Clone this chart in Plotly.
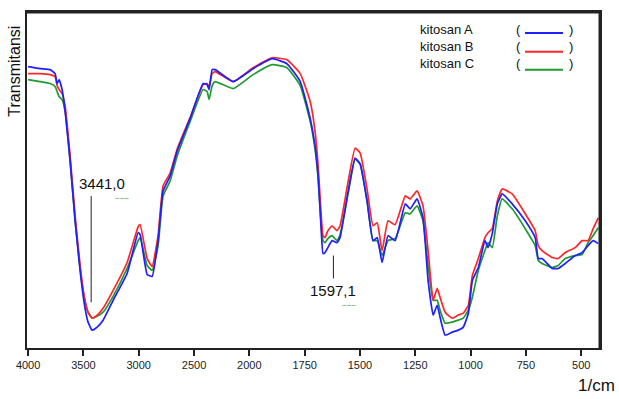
import plotly.graph_objects as go

# Wavenumber (1/cm) sample points
wavenumber = [4000, 3892, 3801, 3756, 3738, 3720, 3693, 3665, 3620, 3575, 3530, 3494, 3458, 3421,
              3376, 3322, 3231, 3105, 3005, 2987, 2924, 2879, 2825, 2780, 2716, 2653, 2535, 2418,
              2382, 2364, 2336, 2309, 2146, 1983, 1897, 1830, 1770, 1725, 1703, 1689, 1675, 1667,
              1658, 1645, 1626, 1604, 1590, 1553, 1522, 1499, 1468, 1441, 1422, 1400, 1373, 1341,
              1295, 1273, 1242, 1215, 1192, 1169, 1151, 1138, 1115, 1083, 1056, 1033, 1010, 992,
              965, 935, 921, 902, 879, 857, 812, 753, 708, 694, 677, 631, 604, 572, 527, 496, 469,
              446, 423]

# Relative transmittance (arbitrary units, no scale on the chart)
kitosan_A = [283, 281, 280, 276, 266, 270, 260, 238, 188, 128, 78, 46, 26, 18,
             21, 28, 48, 75, 116, 114, 74, 72, 108, 158, 173, 198, 231, 266,
             265, 260, 280, 280, 268, 281, 291, 286, 268, 231, 203, 173, 118, 95,
             96, 101, 108, 106, 111, 158, 191, 185, 148, 108, 111, 86, 113, 108,
             145, 140, 150, 131, 68, 33, 43, 31, 13, 16, 18, 21, 35, 68,
             81, 108, 101, 115, 145, 155, 145, 128, 111, 90, 90, 80, 80, 85, 93, 96, 103,
             108, 105]
kitosan_B = [276, 276, 275, 273, 264, 260, 256, 243, 193, 133, 83, 53, 36, 30,
             33, 40, 58, 86, 122, 124, 90, 82, 113, 163, 176, 200, 232, 265,
             266, 263, 276, 278, 268, 282, 292, 290, 276, 248, 218, 183, 133, 113,
             111, 118, 123, 118, 123, 168, 201, 196, 160, 123, 126, 98, 128, 124,
             153, 150, 158, 143, 98, 48, 60, 51, 36, 30, 33, 35, 43, 73,
             90, 111, 116, 120, 148, 160, 155, 135, 118, 103, 98, 91, 90, 96, 101, 108, 108,
             120, 131]
kitosan_C = [270, 268, 266, 263, 258, 253, 250, 238, 188, 128, 80, 52, 36, 30,
             32, 36, 52, 80, 108, 111, 83, 78, 103, 153, 168, 193, 228, 260,
             258, 250, 264, 268, 261, 275, 285, 282, 264, 228, 200, 170, 123, 108,
             106, 110, 113, 108, 114, 156, 190, 185, 148, 108, 108, 93, 108, 110,
             136, 135, 143, 128, 83, 48, 48, 38, 25, 26, 28, 30, 38, 51,
             78, 98, 106, 101, 133, 150, 140, 120, 103, 88, 85, 81, 83, 90, 93, 94, 106,
             113, 121]

series_names = ["kitosan A", "kitosan B", "kitosan C"]
series_colors = ["#1f1fff", "#ff2626", "#1f9a2f"]

tick_labels = [4000, 3500, 3000, 2500, 2000, 1750, 1500, 1250, 1000, 750, 500]

peak_labels = ["3441,0", "1597,1"]
peak_wavenumbers = [3430, 1620]


def to_axis(wn):
    # FTIR chart scale: 500 1/cm per division above 2000, 250 1/cm per division below
    if wn >= 2000:
        return (4000 - wn) / 500.0
    return 4.0 + (2000 - wn) / 250.0


assert len(wavenumber) == len(kitosan_A) == len(kitosan_B) == len(kitosan_C)

xs = [to_axis(w) for w in wavenumber]

fig = go.Figure()
series = [kitosan_A, kitosan_B, kitosan_C]
for idx in [2, 1, 0]:
    fig.add_trace(go.Scatter(
        x=xs, y=series[idx], mode="lines", name=series_names[idx],
        line=dict(color=series_colors[idx], width=1.7, shape="spline", smoothing=0.4),
        hoverinfo="skip", showlegend=False))

L, R, T, B = 27, 19, 10, 51
W, H = 619, 399
pw, ph = W - L - R, H - T - B


def px(xp):
    return (xp - L) / pw


def py(yp):
    return (H - B - yp) / ph


fig.update_layout(
    width=W, height=H,
    margin=dict(l=L, r=R, t=T, b=B),
    paper_bgcolor="white", plot_bgcolor="white",
    font=dict(family="Liberation Sans, Arial, sans-serif", color="#111"),
    xaxis=dict(
        range=[-0.02, 10.34],
        tickvals=[to_axis(t) for t in tick_labels],
        ticktext=[str(t) for t in tick_labels],
        ticks="outside", ticklen=6, tickwidth=2, tickcolor="#222",
        tickfont=dict(size=11, color="#222"),
        showgrid=False, zeroline=False,
        showline=True, linecolor="#222", linewidth=2, mirror=True,
    ),
    yaxis=dict(
        range=[0, 338], showticklabels=False, ticks="",
        showgrid=False, zeroline=False,
        showline=True, linecolor="#222", linewidth=2, mirror=True,
    ),
)

# Heavier top/right frame edges
fig.add_shape(type="line", xref="paper", yref="paper", x0=0, x1=1, y0=1, y1=1,
              line=dict(color="#222", width=3))
fig.add_shape(type="line", xref="paper", yref="paper", x0=1, x1=1, y0=0, y1=1,
              line=dict(color="#222", width=3))

# Y axis title
fig.add_annotation(xref="paper", yref="paper", x=px(15), y=py(70),
                   xanchor="center", yanchor="middle",
                   text="Transmitansi", textangle=-90, showarrow=False,
                   font=dict(size=16, color="#111"))
# X axis unit
fig.add_annotation(xref="paper", yref="paper", x=px(596), y=py(386),
                   xanchor="center", yanchor="middle", text="1/cm", showarrow=False,
                   font=dict(size=17, color="#111"))

# Peak labels
label_y = [165, 58]
label_dx = [0.2, 0.0]
line_y = [(153, 46), (93, 70)]
squiggle_dx = [0.55, 0.28]
for lab, wn, ly, dx, sdx, (y0, y1) in zip(peak_labels, peak_wavenumbers, label_y, label_dx,
                                          squiggle_dx, line_y):
    xa = to_axis(wn)
    fig.add_shape(type="line", xref="x", yref="y", x0=xa, x1=xa, y0=y0, y1=y1,
                  line=dict(color="#222", width=1))
    fig.add_annotation(xref="x", yref="y", x=xa + dx, y=ly, xanchor="center", yanchor="middle",
                       text=lab, showarrow=False, font=dict(size=15, color="#111"))
    fig.add_annotation(xref="x", yref="y", x=xa + sdx, y=ly - 15, xanchor="center",
                       yanchor="middle", text="~~~", showarrow=False,
                       font=dict(size=8, color="#2a9a2a"))

# Legend (text followed by a bracketed line sample)
leg_text_y = [28, 45, 62]
leg_line_y = [31, 50, 68]
for name, col, ty, ly in zip(series_names, series_colors, leg_text_y, leg_line_y):
    fig.add_annotation(xref="paper", yref="paper", x=px(418), y=py(ty),
                       xanchor="left", yanchor="middle",
                       text=name, showarrow=False, font=dict(size=13, color="#111"))
    fig.add_annotation(xref="paper", yref="paper", x=px(518), y=py(ty),
                       xanchor="center", yanchor="middle", text="(",
                       showarrow=False, font=dict(size=13, color="#111"))
    fig.add_annotation(xref="paper", yref="paper", x=px(571), y=py(ty),
                       xanchor="center", yanchor="middle", text=")",
                       showarrow=False, font=dict(size=13, color="#111"))
    fig.add_shape(type="line", xref="paper", yref="paper", x0=px(525), x1=px(563),
                  y0=py(ly), y1=py(ly), line=dict(color=col, width=2))

fig.write_html("out.html", config={"displayModeBar": False},
               post_script="document.body.style.margin='0';document.body.style.overflow='hidden';")
